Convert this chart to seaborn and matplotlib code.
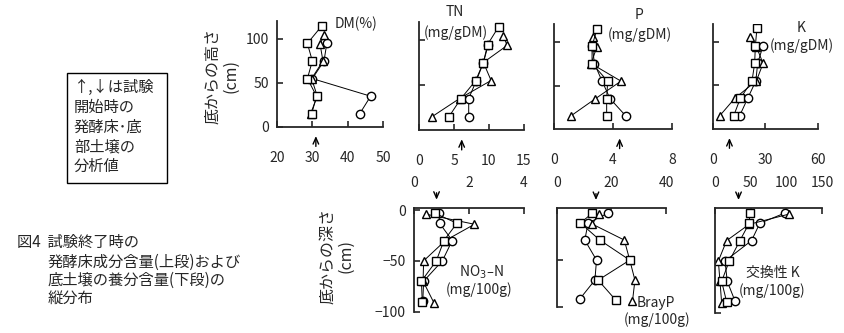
import matplotlib
matplotlib.use("Agg")
import matplotlib.pyplot as plt
from matplotlib.patches import Rectangle
import seaborn as sns
import pandas as pd

sns.set_style("ticks")
plt.rcParams['font.family'] = ['Noto Sans CJK JP', 'DejaVu Sans']
plt.rcParams['axes.unicode_minus'] = True

# ---------------- data ----------------
# upper panels: height from bottom (cm)
sq_h = [115, 95, 75, 55, 35, 15]
tri_h = [105, 94, 75, 55, 35, 15]
ci_h = [95, 75, 55, 35, 15]

dm_sq = [32.7, 28.6, 30.0, 28.6, 31.2, 29.8]
dm_tri = [33.4, 32.2, 33.0, 29.8, 31.4, 29.5]
dm_ci = [34.1, 33.3, 30.0, 46.5, 43.4]

tn_sq = [11.4, 9.8, 9.2, 8.1, 6.0, 4.3]
tn_tri = [12.0, 12.6, 9.2, 10.3, 5.8, 1.9]
tn_ci = [9.9, 9.2, 8.2, 7.1, 7.1]

p_sq = [2.92, 2.58, 2.58, 3.64, 3.57, 3.57]
p_tri = [2.63, 2.90, 2.52, 4.54, 2.81, 1.12]
p_ci = [2.60, 2.74, 3.26, 3.80, 4.88]

k_sq = [25.1, 24.2, 23.8, 22.3, 15.6, 11.8]
k_tri = [21.3, 24.8, 28.6, 24.8, 12.4, 3.8]
k_ci = [28.6, 25.5, 24.5, 19.8, 15.2]

# lower panels: depth below bottom (cm)
sq_d = [-3, -13, -30, -50, -70, -90]
tri_d = [-4, -14, -30, -50, -70, -91]
ci_d = [-3, -13, -30, -50, -70, -89]

no3_sq = [0.75, 1.56, 1.09, 0.81, 0.27, 0.30]
no3_tri = [0.42, 2.20, 1.14, 0.35, 0.33, 0.72]
no3_ci = [0.91, 0.93, 1.39, 1.03, 0.35, 0.32]

bp_sq = [13.0, 8.6, 15.7, 26.7, 15.1, 21.6]
bp_tri = [15.5, 12.9, 24.7, 26.7, 28.6, 27.7]
bp_ci = [18.8, 11.4, 10.2, 14.5, 13.9, 8.3]

ek_sq = [48.8, 47.9, 34.9, 20.0, 9.3, 16.3]
ek_tri = [103.7, 47.9, 16.3, 4.7, 7.0, 9.3]
ek_ci = [97.7, 62.8, 51.2, 14.0, 17.2, 27.9]

# initial values (arrows)
init_top = [31.0, 6.1, 4.45, 9.4]
init_bot = [0.82, 14.3, 33.0]

top_ticks = [[20, 30, 40, 50], [0, 5, 10, 15], [0, 4, 8], [0, 30, 60]]
top_xlim = [(20, 50), (0, 15), (0, 8), (0, 60)]
bot_ticks = [[0, 2, 4], [0, 20, 40], [0, 50, 100, 150]]
bot_xlim = [(0, 4), (0, 40), (0, 150)]

W, H = 845, 333
fig = plt.figure(figsize=(8.45, 3.33), dpi=100)


def rect(x0, x1, yt, yb):
    return [x0 / W, 1 - yb / H, (x1 - x0) / W, (yb - yt) / H]


def fx(x):
    return x / W


def fy(y):
    return 1 - y / H


markers = {'sq': 's', 'tri': '^', 'ci': 'o'}
arrow_style = dict(arrowstyle='->,head_length=0.45,head_width=0.2',
                   lw=1.0, color='black')


def draw(ax, sq, tri, ci, sh, th, chh):
    rows = []
    for name, vals, pos in (('ci', ci, chh), ('tri', tri, th), ('sq', sq, sh)):
        for v, p in zip(vals, pos):
            rows.append({'series': name, 'val': v, 'pos': p})
    df = pd.DataFrame(rows)
    sns.lineplot(data=df, x='val', y='pos', style='series', markers=markers,
                 dashes=False, sort=False, estimator=None, color='black',
                 lw=0.7, markersize=6, markerfacecolor='white',
                 markeredgecolor='black', markeredgewidth=1.0,
                 legend=False, ax=ax)
    ax.set_xlabel('')
    ax.set_ylabel('')
    ax.set_facecolor('none')


top_rects = [rect(277, 383, 21.4, 127), rect(419, 524, 22, 130),
             rect(554, 672, 24.2, 129.3), rect(713, 818, 24, 129)]
top_data = [(dm_sq, dm_tri, dm_ci), (tn_sq, tn_tri, tn_ci),
            (p_sq, p_tri, p_ci), (k_sq, k_tri, k_ci)]

for i, (r, d) in enumerate(zip(top_rects, top_data)):
    ax = fig.add_axes(r)
    draw(ax, *d, sq_h, tri_h, ci_h)
    ax.set_xlim(*top_xlim[i])
    ax.set_ylim(0, 120)
    ax.set_xticks(top_ticks[i])
    ax.set_xticklabels([str(t) for t in top_ticks[i]])
    if i == 0:
        ax.set_yticks([0, 50, 100])
        ax.set_yticklabels(['0', '50', '100'])
    else:
        ax.set_yticks([50, 100])
        ax.set_yticklabels([])
    for s in ('top', 'right'):
        ax.spines[s].set_visible(False)
    for s in ('left', 'bottom'):
        ax.spines[s].set_linewidth(1.3)
    ax.tick_params(axis='x', direction='in', length=4, width=1.2,
                   pad=17, labelsize=10)
    ax.tick_params(axis='y', direction='in', length=4, width=1.2,
                   pad=6, labelsize=10)
    ax.annotate('', xy=(init_top[i], -0.06), xytext=(init_top[i], -0.21),
                xycoords=('data', 'axes fraction'),
                textcoords=('data', 'axes fraction'),
                arrowprops=arrow_style, annotation_clip=False)

bot_rects = [rect(414, 524, 207.7, 311.7), rect(557, 666, 207.7, 306.7),
             rect(715, 822, 208, 313)]
bot_ylim = [(-100, 2.3), (-96.5, 2.3), (-101, 2)]
bot_data = [(no3_sq, no3_tri, no3_ci), (bp_sq, bp_tri, bp_ci),
            (ek_sq, ek_tri, ek_ci)]

for i, (r, d) in enumerate(zip(bot_rects, bot_data)):
    ax = fig.add_axes(r)
    draw(ax, *d, sq_d, tri_d, ci_d)
    ax.set_xlim(*bot_xlim[i])
    ax.set_ylim(*bot_ylim[i])
    ax.xaxis.tick_top()
    ax.set_xticks(bot_ticks[i])
    ax.set_xticklabels([str(t) for t in bot_ticks[i]])
    if i == 0:
        ax.set_yticks([-100, -50, 0])
        ax.set_yticklabels(['\u2212100', '\u221250', '0'])
    elif i == 1:
        ax.set_yticks([bot_ylim[i][0], -50])
        ax.set_yticklabels([])
    else:
        ax.set_yticks([bot_ylim[i][0]])
        ax.set_yticklabels([])
    for s in ('bottom', 'right'):
        ax.spines[s].set_visible(False)
    for s in ('left', 'top'):
        ax.spines[s].set_linewidth(1.3)
    ax.tick_params(axis='x', direction='in', length=4, width=1.2, top=True,
                   bottom=False, labeltop=True, labelbottom=False,
                   pad=13, labelsize=10)
    ax.tick_params(axis='y', direction='in', length=4, width=1.2,
                   pad=6, labelsize=10)
    ax.annotate('', xy=(init_bot[i], 1.05), xytext=(init_bot[i], 1.17),
                xycoords=('data', 'axes fraction'),
                textcoords=('data', 'axes fraction'),
                arrowprops=arrow_style, annotation_clip=False)

# panel labels
lab = dict(fontsize=10, ha='center', va='center')
fig.text(fx(356), fy(24), 'DM(%)', **lab)
fig.text(fx(455), fy(12), 'TN', **lab)
fig.text(fx(456), fy(33), '(mg/gDM)', **lab)
fig.text(fx(639), fy(15), 'P', **lab)
fig.text(fx(640), fy(35), '(mg/gDM)', **lab)
fig.text(fx(801), fy(28), 'K', **lab)
fig.text(fx(802), fy(46), '(mg/gDM)', **lab)
fig.text(fx(481), fy(272), 'NO$_3$\u2013N', **lab)
fig.text(fx(479), fy(290), '(mg/100g)', **lab)
fig.text(fx(656), fy(303), 'BrayP', **lab)
fig.text(fx(657), fy(320), '(mg/100g)', **lab)
fig.text(fx(773), fy(273), '交換性 K', **lab)
fig.text(fx(772), fy(291), '(mg/100g)', **lab)

# axis titles
fig.text(fx(222), fy(76), '底からの高さ\n(cm)', rotation=90, fontsize=11.5,
         ha='center', va='center', multialignment='center', linespacing=1.1)
fig.text(fx(337), fy(256), '底からの深さ\n(cm)', rotation=90, fontsize=11.5,
         ha='center', va='center', multialignment='center', linespacing=1.1)

# note box
fig.patches.append(Rectangle((fx(67), fy(183)), (167 - 67) / W, (183 - 73) / H,
                             transform=fig.transFigure, fill=False,
                             ec='black', lw=1.0))
fig.text(fx(74), fy(127), '↑,↓は試験\n開始時の\n発酵床･底\n部土壌の\n分析値',
         fontsize=11, ha='left', va='center', linespacing=1.2)

# caption
cap = dict(fontsize=11, ha='left', va='center')
fig.text(fx(17), fy(242), '図4  試験終了時の', **cap)
fig.text(fx(48), fy(262), '発酵床成分含量(上段)および', **cap)
fig.text(fx(48), fy(280), '底土壌の養分含量(下段)の', **cap)
fig.text(fx(48), fy(298), '縦分布', **cap)

fig.savefig('out.png', dpi=100)
